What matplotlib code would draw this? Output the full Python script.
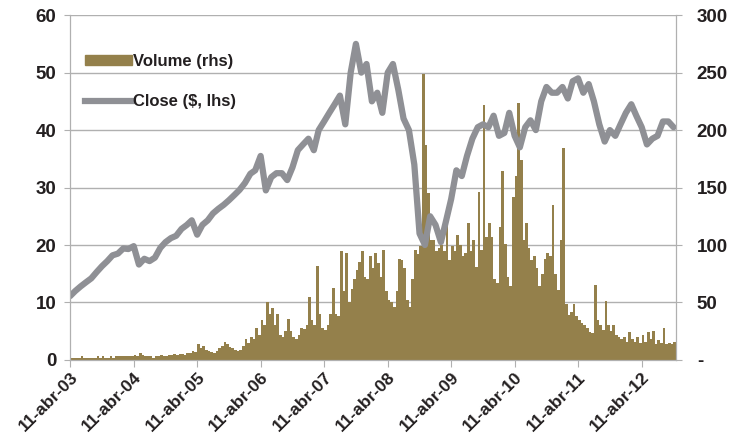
import numpy as np
import pandas as pd
import matplotlib
matplotlib.use("Agg")
import matplotlib.pyplot as plt
import matplotlib.patches as mpatches
import matplotlib.lines as mlines

# Cours de cloture mensuel ($, axe gauche), a partir du 11 avril 2003
close = [11.1, 12.0, 12.8, 13.5, 14.2, 15.3, 16.3, 17.2, 18.2, 18.5, 19.4, 19.3,
         19.8, 16.6, 17.6, 17.2, 17.8, 19.5, 20.5, 21.2, 21.6, 22.8, 23.5, 24.3,
         21.8, 23.5, 24.3, 25.5, 26.3, 27.0, 27.8, 28.7, 29.6, 30.8, 32.4, 33.0,
         35.5, 29.5, 31.8, 32.5, 32.5, 31.3, 33.5, 36.5, 37.5, 38.5, 36.5, 40.0,
         41.5, 43.0, 44.5, 46.0, 41.0, 50.0, 55.0, 50.0, 51.5, 45.0, 46.5, 43.0,
         50.0, 51.5, 47.0, 42.0, 40.0, 34.0, 22.0, 20.0, 25.0, 23.5, 20.5, 24.0,
         28.0, 33.0, 32.0, 35.5, 38.5, 40.5, 41.0, 40.5, 42.5, 39.0, 39.5, 43.0,
         39.0, 37.0, 40.5, 41.7, 40.0, 45.0, 47.5, 46.5, 46.5, 47.5, 45.5, 48.5,
         49.0, 46.5, 48.0, 45.0, 41.0, 38.0, 40.0, 39.0, 41.0, 43.0, 44.5, 42.5,
         40.5, 37.5, 38.5, 39.0, 41.5, 41.5, 40.5]

# Volume par quinzaine (axe droit)
volume = [2, 2, 2, 2, 3, 2, 2, 2, 2, 2, 3, 2, 3, 2, 2, 3, 2, 3, 3, 3, 3, 3, 3, 3,
          4, 3, 6, 4, 3, 3, 3, 2, 3, 3, 4, 3, 3, 4, 4, 5, 4, 5, 5, 4, 6, 6, 8, 7,
          14, 10, 12, 9, 8, 7, 6, 8, 10, 12, 16, 14, 11, 10, 9, 8, 9, 12, 18, 15, 20, 18, 28, 22,
          35, 30, 50, 40, 45, 30, 40, 22, 20, 25, 36, 25, 20, 18, 22, 28, 27, 30, 55, 35, 30, 82, 40, 28,
          26, 30, 40, 63, 40, 38, 95, 60, 93, 50, 62, 70, 78, 85, 95, 72, 70, 90, 80, 93, 84, 72, 96, 60,
          52, 50, 46, 60, 88, 87, 80, 52, 46, 70, 96, 92, 99, 249, 187, 145, 104, 104, 95, 97, 100, 95, 119, 87,
          99, 95, 109, 100, 90, 93, 119, 95, 104, 81, 146, 96, 222, 107, 119, 107, 70, 67, 116, 164, 101, 72, 64, 142,
          160, 224, 174, 104, 119, 97, 87, 90, 80, 64, 75, 88, 93, 90, 135, 75, 61, 104, 184, 49, 39, 42, 49, 38,
          35, 32, 30, 28, 24, 23, 65, 35, 30, 26, 51, 30, 25, 30, 22, 20, 18, 20, 16, 24, 18, 16, 20, 15,
          22, 16, 24, 18, 25, 14, 17, 15, 28, 14, 15, 14, 16, 17]

years = list(range(2003, 2013))
tick_labels = ["11-abr-%02d" % (y % 100) for y in years]

start = pd.Timestamp("2003-04-11")
close_dates = pd.date_range(start, periods=len(close), freq=pd.DateOffset(months=1))
step = pd.Timedelta(days=365.25 / 24)
vol_dates = [start + i * step for i in range(len(volume))]
tick_dates = [pd.Timestamp("%d-04-11" % y) for y in years]

plt.rcParams['font.family'] = ['Liberation Sans', 'DejaVu Sans']
plt.rcParams['font.weight'] = 'bold'

fig = plt.figure(figsize=(7.3, 4.46), dpi=100)
ax = fig.add_axes([0.096, 0.193, 0.830, 0.773])
ax2 = ax.twinx()

bar_col = '#94804b'
line_col = '#8f9095'
grid_col = '#b0b0b0'
txt_col = '#231f20'

ax2.bar(vol_dates, volume, width=step * 1.0, align='edge', color=bar_col, linewidth=0)
ax.plot(close_dates, close, color=line_col, lw=4.5, solid_capstyle='round', solid_joinstyle='round')

ax.set_zorder(ax2.get_zorder() + 1)
ax.patch.set_visible(False)

ax.set_ylim(0, 60)
ax2.set_ylim(0, 300)
ax.set_xlim(start, max(close_dates[-1], vol_dates[-1]))

ax2.set_yticks(range(0, 301, 50))
ax2.set_yticklabels(['-'] + [str(v) for v in range(50, 301, 50)])
ax2.yaxis.grid(True, color=grid_col, lw=1)
ax2.set_axisbelow(True)

ax.set_yticks(range(0, 61, 10))
ax.set_xticks(tick_dates)
ax.set_xticklabels(tick_labels, rotation=45, ha='right', rotation_mode='anchor')

for a in (ax, ax2):
    for s in a.spines.values():
        s.set_color(grid_col)
    a.spines['top'].set_visible(False)
    a.tick_params(colors=grid_col, labelcolor=txt_col, labelsize=13.5, length=4)
ax.tick_params(axis='x', labelsize=12.5, length=5, pad=2)
ax.tick_params(axis='y', pad=6)
ax2.tick_params(axis='y', pad=11)

handles = [mpatches.Patch(color=bar_col), mlines.Line2D([], [], color=line_col, lw=4.5)]
leg = ax.legend(handles, ['Volume (rhs)', 'Close ($, lhs)'], loc='upper left',
                bbox_to_anchor=(0.0, 0.93), frameon=False, fontsize=12,
                labelspacing=1.5, handlelength=2.8, handleheight=0.55, handletextpad=0.1)
for t in leg.get_texts():
    t.set_color(txt_col)

fig.savefig("out.png", dpi=100)
